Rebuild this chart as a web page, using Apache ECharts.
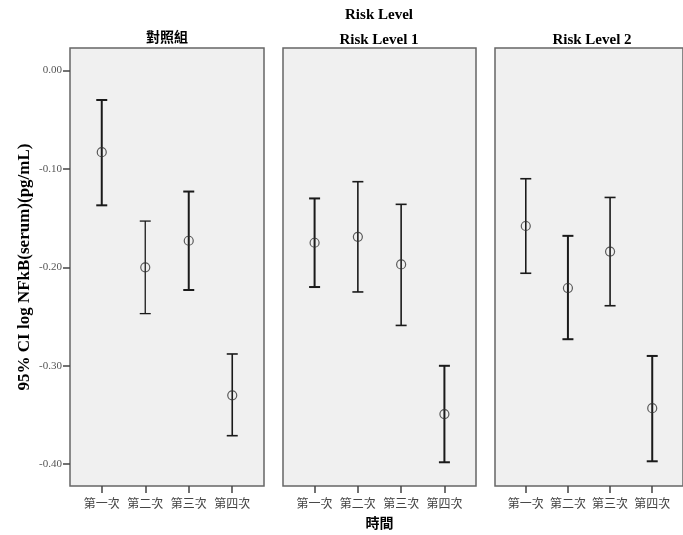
<!DOCTYPE html>
<html>
<head>
<meta charset="utf-8">
<script src="https://cdn.jsdelivr.net/npm/echarts@6/dist/echarts.min.js"></script>
<style>
  html, body { margin: 0; padding: 0; background: #fff; }
  #main { width: 683px; height: 535px; }
</style>
</head>
<body>
<div id="main"></div>
<script>
// 時間 categories and panel names
var categories = ['第一次', '第二次', '第三次', '第四次'];
var groupNames = ['對照組', 'Risk Level 1', 'Risk Level 2'];
var yTicks = [0, -0.1, -0.2, -0.3, -0.4];

// 對照組
var controlMean  = [-0.083, -0.200, -0.173, -0.330];
var controlLower = [-0.137, -0.247, -0.223, -0.371];
var controlUpper = [-0.030, -0.153, -0.123, -0.288];

// Risk Level 1
var risk1Mean  = [-0.175, -0.169, -0.197, -0.349];
var risk1Lower = [-0.220, -0.225, -0.259, -0.398];
var risk1Upper = [-0.130, -0.113, -0.136, -0.300];

// Risk Level 2
var risk2Mean  = [-0.158, -0.221, -0.184, -0.343];
var risk2Lower = [-0.206, -0.273, -0.239, -0.397];
var risk2Upper = [-0.110, -0.168, -0.129, -0.290];

var panels = [
    { mean: controlMean, lower: controlLower, upper: controlUpper },
    { mean: risk1Mean, lower: risk1Lower, upper: risk1Upper },
    { mean: risk2Mean, lower: risk2Lower, upper: risk2Upper }
];

// 線寬 (原圖粗細不一)
var barWidths = [[2, 1.3, 2, 1.6], [2, 1.6, 1.6, 2], [1.6, 2, 1.6, 2]];
var gridLefts = [70, 283, 495];
var gridWidths = [194, 193, 194];

var serif = '"Liberation Serif", "DejaVu Serif", serif';
var cjk = '"Noto Sans CJK TC", "Noto Sans CJK SC", sans-serif';

var grids = [], xAxes = [], yAxes = [], series = [];

panels.forEach(function (p, gi) {
    grids.push({
        left: gridLefts[gi], width: gridWidths[gi], top: 48, bottom: 49,
        show: true, backgroundColor: '#f0f0f0', borderColor: '#666', borderWidth: 1.5
    });
    xAxes.push({
        type: 'value', gridIndex: gi, min: 0.27, max: 4.73, position: 'bottom',
        splitLine: { show: false },
        axisLine: { show: false, onZero: false },
        axisTick: { show: true, length: 7, customValues: [1, 2, 3, 4], lineStyle: { color: '#444', width: 1.5 } },
        axisLabel: {
            customValues: [1, 2, 3, 4], margin: 11, color: '#444', fontSize: 12, fontFamily: cjk,
            formatter: function (v) { return categories[Math.round(v) - 1]; }
        },
        name: gi === 1 ? '時間' : '', nameLocation: 'middle', nameGap: 30,
        nameTextStyle: { fontFamily: cjk, fontWeight: 'bold', fontSize: 14, color: '#000' }
    });
    yAxes.push({
        type: 'value', gridIndex: gi, min: -0.4221, max: 0.0228,
        splitLine: { show: false },
        axisLine: { show: false, onZero: false },
        axisTick: { show: gi === 0, length: 7, customValues: yTicks, lineStyle: { color: '#444', width: 1.5 } },
        axisLabel: {
            show: gi === 0, customValues: yTicks, margin: 8, color: '#555', fontSize: 11, fontFamily: serif,
            formatter: function (v) { return v.toFixed(2); }
        },
        name: gi === 0 ? '95% CI log NFkB(serum)(pg/mL)' : '',
        nameLocation: 'middle', nameGap: 37, nameRotate: 90,
        nameTextStyle: { fontFamily: serif, fontWeight: 'bold', fontSize: 17, color: '#000' }
    });

    var barData = p.mean.map(function (m, i) {
        return [i + 1, p.lower[i], p.upper[i], barWidths[gi][i]];
    });
    series.push({
        type: 'custom', xAxisIndex: gi, yAxisIndex: gi, data: barData, silent: true,
        renderItem: function (params, api) {
            var x = api.value(0);
            var lo = api.coord([x, api.value(1)]);
            var hi = api.coord([x, api.value(2)]);
            var lw = api.value(3);
            var cap = 5.5;
            var style = { stroke: '#1a1a1a', lineWidth: lw };
            return {
                type: 'group',
                children: [
                    { type: 'line', shape: { x1: hi[0], y1: hi[1], x2: lo[0], y2: lo[1] }, style: style },
                    { type: 'line', shape: { x1: hi[0] - cap, y1: hi[1], x2: hi[0] + cap, y2: hi[1] }, style: style },
                    { type: 'line', shape: { x1: lo[0] - cap, y1: lo[1], x2: lo[0] + cap, y2: lo[1] }, style: style }
                ]
            };
        }
    });
    series.push({
        type: 'scatter', xAxisIndex: gi, yAxisIndex: gi, silent: true, z: 3,
        symbol: 'circle', symbolSize: 9,
        itemStyle: { color: 'rgba(0,0,0,0)', borderColor: '#333', borderWidth: 1.2 },
        data: p.mean.map(function (m, i) { return [i + 1, m]; })
    });
});

var titleStyle = { fontFamily: serif, fontWeight: 'bold', fontSize: 15, color: '#000' };

var option = {
    animation: false,
    title: [
        { text: 'Risk Level', left: 379, top: 8, textAlign: 'center', padding: 0, textStyle: titleStyle },
        { text: groupNames[0], left: 167, top: 30, textAlign: 'center', padding: 0,
          textStyle: { fontFamily: cjk, fontWeight: 'bold', fontSize: 14, color: '#000' } },
        { text: groupNames[1], left: 379, top: 33, textAlign: 'center', padding: 0, textStyle: titleStyle },
        { text: groupNames[2], left: 592, top: 33, textAlign: 'center', padding: 0, textStyle: titleStyle }
    ],
    grid: grids,
    xAxis: xAxes,
    yAxis: yAxes,
    series: series
};

var chart = echarts.init(document.getElementById('main'));
chart.setOption(option);
</script>
</body>
</html>
